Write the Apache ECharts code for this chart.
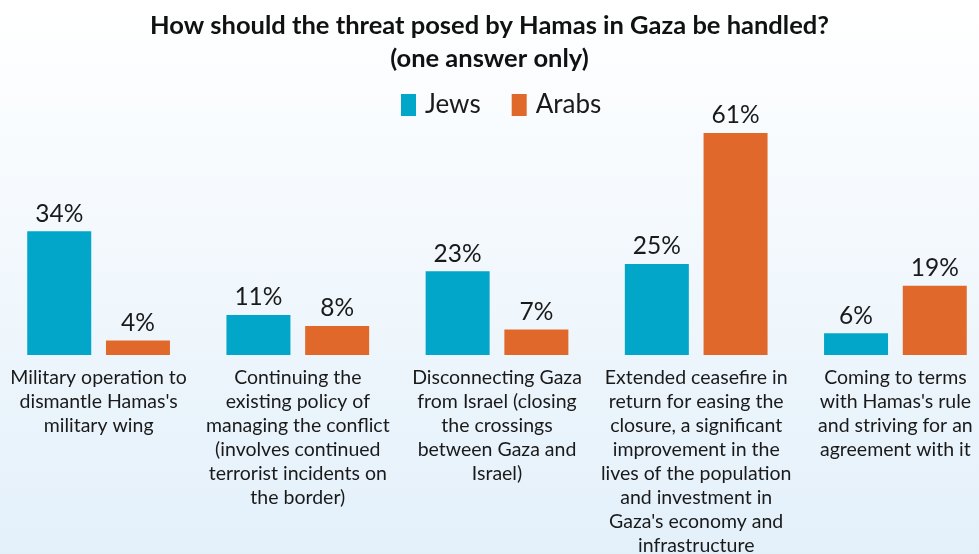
<!DOCTYPE html>
<html>
<head>
<meta charset="utf-8">
<script src="https://cdn.jsdelivr.net/npm/echarts@6/dist/echarts.min.js"></script>
<style>
  html, body { margin: 0; padding: 0; }
  #chart { width: 979px; height: 554px; }
</style>
</head>
<body>
<div id="chart"></div>
<script>
// Answer options (line breaks as set on the axis)
const categories = [
  "Military operation to\ndismantle Hamas's\nmilitary wing",
  "Continuing the\nexisting policy of\nmanaging the conflict\n(involves continued\nterrorist incidents on\nthe border)",
  "Disconnecting Gaza\nfrom Israel (closing\nthe crossings\nbetween Gaza and\nIsrael)",
  "Extended ceasefire in\nreturn for easing the\nclosure, a significant\nimprovement in the\nlives of the population\nand investment in\nGaza's economy and\ninfrastructure",
  "Coming to terms\nwith Hamas's rule\nand striving for an\nagreement with it"
];
// Share of respondents, percent
const jews = [34, 11, 23, 25, 6];
const arabs = [4, 8, 7, 61, 19];

const FONT = 'Lato';
const chart = echarts.init(document.getElementById('chart'));

const valueLabel = {
  show: true,
  position: 'top',
  distance: 5,
  formatter: '{c}%',
  fontFamily: FONT,
  fontSize: 24.5,
  color: '#1a1a1a'
};

chart.setOption({
  animation: false,
  backgroundColor: {
    type: 'linear', x: 0, y: 0, x2: 0, y2: 1,
    colorStops: [
      { offset: 0, color: '#ffffff' },
      { offset: 1, color: '#e3f0fa' }
    ]
  },
  title: {
    text: 'How should the threat posed by Hamas in Gaza be handled?\n(one answer only)',
    left: 'center',
    top: 4,
    textStyle: {
      fontFamily: FONT,
      fontWeight: 'bold',
      fontSize: 25.5,
      lineHeight: 33,
      color: '#111'
    }
  },
  legend: {
    top: 87,
    left: 396,
    itemWidth: 15,
    itemHeight: 22,
    itemGap: 31,
    icon: 'rect',
    textStyle: { fontFamily: FONT, fontSize: 26, color: '#1a1a1a', padding: [0, 0, 0, 4] },
    data: ['Jews', 'Arabs']
  },
  grid: {
    left: -1,
    width: 996,
    top: 133,
    bottom: 199,
    containLabel: false,
    outerBoundsMode: 'none'
  },
  xAxis: {
    type: 'category',
    data: categories,
    axisLine: { show: false },
    axisTick: { show: false },
    axisLabel: {
      interval: 0,
      margin: 11,
      fontFamily: FONT,
      fontSize: 19.5,
      lineHeight: 24,
      color: '#1a1a1a',
      align: 'center'
    }
  },
  yAxis: {
    type: 'value',
    min: 0,
    max: 61,
    show: false,
    splitLine: { show: false }
  },
  series: [
    {
      name: 'Jews',
      type: 'bar',
      data: jews,
      barWidth: 64,
      barGap: '23%',
      itemStyle: { color: '#02a6c8' },
      label: valueLabel
    },
    {
      name: 'Arabs',
      type: 'bar',
      data: arabs,
      barWidth: 64,
      itemStyle: { color: '#e0682b' },
      label: valueLabel
    }
  ]
});
</script>
</body>
</html>
